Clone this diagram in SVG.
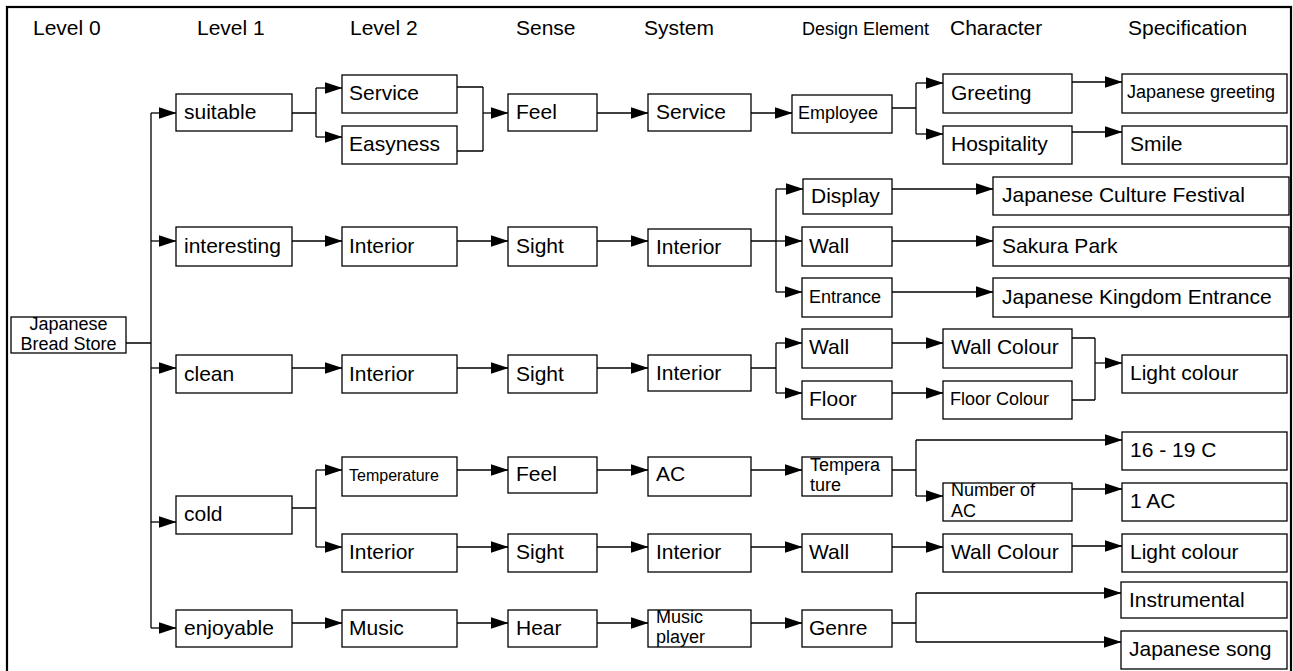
<svg xmlns="http://www.w3.org/2000/svg" width="1293" height="671" viewBox="0 0 1293 671">
<style>
text{font-family:"Liberation Sans",Arial,sans-serif;fill:#000}
.h{font-size:21px}
.b{font-size:21px}
.s{font-size:18px}
.t{font-size:16px}
rect.n{fill:#fff;stroke:#000;stroke-width:1.3}
.c path{fill:none;stroke:#000;stroke-width:1.3}
.c path.a{marker-end:url(#ah)}
</style>
<defs>
<marker id="ah" markerUnits="userSpaceOnUse" viewBox="0 0 18 12" markerWidth="18" markerHeight="12" refX="17.5" refY="6" orient="auto">
<path d="M0,0 L18,6 L0,12 z" fill="#000"/>
</marker>
</defs>
<rect x="7" y="7" width="1284" height="700" fill="#fff" stroke="#000" stroke-width="2.2"/>
<g id="headers">
<text class="h" x="33" y="35">Level 0</text>
<text class="h" x="197" y="35">Level 1</text>
<text class="h" x="350" y="35">Level 2</text>
<text class="h" x="516" y="35">Sense</text>
<text class="h" x="644" y="35">System</text>
<text class="s" x="802" y="35">Design Element</text>
<text class="h" x="950" y="35">Character</text>
<text class="h" x="1128" y="35">Specification</text>
</g>
<g class="c" id="connectors">
<path d="M126,343 H151 M151,113 V628"/>
<path class="a" d="M151,113 H176"/>
<path class="a" d="M151,241 H176"/>
<path class="a" d="M151,368 H176"/>
<path class="a" d="M151,522 H176"/>
<path class="a" d="M151,628 H176"/>
<path d="M292,113 H316 M316,88 V137"/>
<path class="a" d="M316,88 H342"/>
<path class="a" d="M316,137 H342"/>
<path d="M457,87 H483 M457,151 H483 M483,87 V151"/>
<path class="a" d="M483,113 H508"/>
<path class="a" d="M597,113 H648"/>
<path class="a" d="M751,113 H792"/>
<path d="M892,108 H916 M916,83 V134"/>
<path class="a" d="M916,83 H943"/>
<path class="a" d="M916,134 H943"/>
<path class="a" d="M1072,82 H1122"/>
<path class="a" d="M1072,132 H1122"/>
<path class="a" d="M292,241 H342"/>
<path class="a" d="M457,241 H508"/>
<path class="a" d="M597,241 H648"/>
<path d="M751,241 H776 M776,189 V292"/>
<path class="a" d="M776,189 H803"/>
<path class="a" d="M776,241 H802"/>
<path class="a" d="M776,292 H802"/>
<path class="a" d="M892,189 H993"/>
<path class="a" d="M892,241 H993"/>
<path class="a" d="M892,292 H993"/>
<path class="a" d="M292,368 H342"/>
<path class="a" d="M457,368 H508"/>
<path class="a" d="M597,368 H648"/>
<path d="M751,368 H776 M776,343 V393"/>
<path class="a" d="M776,343 H802"/>
<path class="a" d="M776,393 H802"/>
<path class="a" d="M892,343 H943"/>
<path class="a" d="M892,393 H943"/>
<path d="M1072,338 H1095 M1072,400 H1095 M1095,338 V400"/>
<path class="a" d="M1095,363 H1122"/>
<path d="M292,508 H316 M316,470 V547"/>
<path class="a" d="M316,470 H342"/>
<path class="a" d="M316,547 H342"/>
<path class="a" d="M457,470 H508"/>
<path class="a" d="M597,470 H648"/>
<path class="a" d="M751,470 H802"/>
<path d="M892,470 H916 M916,440 V496"/>
<path class="a" d="M916,440 H1122"/>
<path class="a" d="M916,496 H943"/>
<path class="a" d="M1072,489 H1122"/>
<path class="a" d="M457,547 H508"/>
<path class="a" d="M597,547 H648"/>
<path class="a" d="M751,547 H802"/>
<path class="a" d="M892,547 H943"/>
<path class="a" d="M1072,546 H1122"/>
<path class="a" d="M292,623 H342"/>
<path class="a" d="M457,623 H508"/>
<path class="a" d="M597,623 H648"/>
<path class="a" d="M751,623 H802"/>
<path d="M892,623 H916 M916,593 V642"/>
<path class="a" d="M916,593 H1121"/>
<path class="a" d="M916,642 H1121"/>
</g>
<g id="n-store"><rect class="n" x="11" y="317" width="115" height="36"/><text class="s" x="68.5" y="330" text-anchor="middle">Japanese</text><text class="s" x="68.5" y="350" text-anchor="middle">Bread Store</text></g>
<g id="n-suitable"><rect class="n" x="176" y="94" width="116" height="37"/><text class="b" x="184" y="119">suitable</text></g>
<g id="n-interesting"><rect class="n" x="176" y="227" width="116" height="39"/><text class="b" x="184" y="253">interesting</text></g>
<g id="n-clean"><rect class="n" x="176" y="355" width="116" height="38"/><text class="b" x="184" y="381">clean</text></g>
<g id="n-cold"><rect class="n" x="176" y="496" width="116" height="38"/><text class="b" x="184" y="521">cold</text></g>
<g id="n-enjoyable"><rect class="n" x="176" y="610" width="116" height="37"/><text class="b" x="184" y="635">enjoyable</text></g>
<g id="n-l2-service"><rect class="n" x="342" y="75" width="115" height="38"/><text class="b" x="349" y="100">Service</text></g>
<g id="n-l2-easyness"><rect class="n" x="342" y="126" width="115" height="38"/><text class="b" x="349" y="151">Easyness</text></g>
<g id="n-l2-interior1"><rect class="n" x="342" y="227" width="115" height="39"/><text class="b" x="349" y="253">Interior</text></g>
<g id="n-l2-interior2"><rect class="n" x="342" y="355" width="115" height="38"/><text class="b" x="349" y="381">Interior</text></g>
<g id="n-l2-temperature"><rect class="n" x="342" y="457" width="115" height="39"/><text class="t" x="349" y="481">Temperature</text></g>
<g id="n-l2-interior3"><rect class="n" x="342" y="534" width="115" height="38"/><text class="b" x="349" y="559">Interior</text></g>
<g id="n-l2-music"><rect class="n" x="342" y="610" width="115" height="37"/><text class="b" x="349" y="635">Music</text></g>
<g id="n-se-feel1"><rect class="n" x="508" y="94" width="89" height="37"/><text class="b" x="516" y="119">Feel</text></g>
<g id="n-se-sight1"><rect class="n" x="508" y="227" width="89" height="39"/><text class="b" x="516" y="253">Sight</text></g>
<g id="n-se-sight2"><rect class="n" x="508" y="355" width="89" height="38"/><text class="b" x="516" y="381">Sight</text></g>
<g id="n-se-feel2"><rect class="n" x="508" y="457" width="89" height="36"/><text class="b" x="516" y="481">Feel</text></g>
<g id="n-se-sight3"><rect class="n" x="508" y="534" width="89" height="38"/><text class="b" x="516" y="559">Sight</text></g>
<g id="n-se-hear"><rect class="n" x="508" y="610" width="89" height="37"/><text class="b" x="516" y="635">Hear</text></g>
<g id="n-sy-service"><rect class="n" x="648" y="94" width="103" height="37"/><text class="b" x="656" y="119">Service</text></g>
<g id="n-sy-interior1"><rect class="n" x="648" y="229" width="103" height="37"/><text class="b" x="656" y="254">Interior</text></g>
<g id="n-sy-interior2"><rect class="n" x="648" y="355" width="103" height="36"/><text class="b" x="656" y="380">Interior</text></g>
<g id="n-sy-ac"><rect class="n" x="648" y="457" width="103" height="39"/><text class="b" x="656" y="481">AC</text></g>
<g id="n-sy-interior3"><rect class="n" x="648" y="534" width="103" height="38"/><text class="b" x="656" y="559">Interior</text></g>
<g id="n-sy-musicplayer"><rect class="n" x="648" y="610" width="103" height="37"/><text class="s" x="656" y="623">Music</text><text class="s" x="656" y="643">player</text></g>
<g id="n-de-employee"><rect class="n" x="792" y="95" width="100" height="38"/><text class="s" x="798" y="119">Employee</text></g>
<g id="n-de-display"><rect class="n" x="803" y="179" width="89" height="35"/><text class="b" x="811" y="203">Display</text></g>
<g id="n-de-wall1"><rect class="n" x="802" y="227" width="90" height="39"/><text class="b" x="809" y="253">Wall</text></g>
<g id="n-de-entrance"><rect class="n" x="802" y="278" width="90" height="39"/><text class="s" x="809" y="303">Entrance</text></g>
<g id="n-de-wall2"><rect class="n" x="802" y="329" width="90" height="39"/><text class="b" x="809" y="354">Wall</text></g>
<g id="n-de-floor"><rect class="n" x="802" y="381" width="90" height="38"/><text class="b" x="809" y="406">Floor</text></g>
<g id="n-de-temperature"><rect class="n" x="802" y="457" width="90" height="39"/><text class="s" x="810" y="471">Tempera</text><text class="s" x="810" y="491">ture</text></g>
<g id="n-de-wall3"><rect class="n" x="802" y="534" width="90" height="38"/><text class="b" x="809" y="559">Wall</text></g>
<g id="n-de-genre"><rect class="n" x="802" y="610" width="90" height="37"/><text class="b" x="809" y="635">Genre</text></g>
<g id="n-ch-greeting"><rect class="n" x="943" y="74" width="129" height="39"/><text class="b" x="951" y="100">Greeting</text></g>
<g id="n-ch-hospitality"><rect class="n" x="943" y="126" width="129" height="38"/><text class="b" x="951" y="151">Hospitality</text></g>
<g id="n-ch-wallcolour1"><rect class="n" x="943" y="329" width="129" height="39"/><text class="b" x="951" y="354">Wall Colour</text></g>
<g id="n-ch-floorcolour"><rect class="n" x="943" y="381" width="129" height="38"/><text class="s" x="950" y="405">Floor Colour</text></g>
<g id="n-ch-numberac"><rect class="n" x="943" y="483" width="129" height="38"/><text class="s" x="951" y="496">Number of</text><text class="s" x="951" y="517">AC</text></g>
<g id="n-ch-wallcolour2"><rect class="n" x="943" y="534" width="129" height="38"/><text class="b" x="951" y="559">Wall Colour</text></g>
<g id="n-sp-jgreeting"><rect class="n" x="1122" y="74" width="165" height="39"/><text class="s" x="1127" y="98">Japanese greeting</text></g>
<g id="n-sp-smile"><rect class="n" x="1122" y="126" width="165" height="38"/><text class="b" x="1130" y="151">Smile</text></g>
<g id="n-sp-jcf"><rect class="n" x="993" y="177" width="296" height="38"/><text class="b" x="1002" y="202">Japanese Culture Festival</text></g>
<g id="n-sp-sakura"><rect class="n" x="993" y="227" width="296" height="39"/><text class="b" x="1002" y="253">Sakura Park</text></g>
<g id="n-sp-jke"><rect class="n" x="993" y="278" width="296" height="39"/><text class="b" x="1002" y="304">Japanese Kingdom Entrance</text></g>
<g id="n-sp-light1"><rect class="n" x="1122" y="355" width="165" height="38"/><text class="b" x="1130" y="380">Light colour</text></g>
<g id="n-sp-temp"><rect class="n" x="1122" y="432" width="165" height="38"/><text class="b" x="1130" y="457">16 - 19 C</text></g>
<g id="n-sp-1ac"><rect class="n" x="1122" y="483" width="165" height="38"/><text class="b" x="1130" y="508">1 AC</text></g>
<g id="n-sp-light2"><rect class="n" x="1122" y="534" width="165" height="38"/><text class="b" x="1130" y="559">Light colour</text></g>
<g id="n-sp-instrumental"><rect class="n" x="1121" y="582" width="166" height="36"/><text class="b" x="1129" y="607">Instrumental</text></g>
<g id="n-sp-jsong"><rect class="n" x="1121" y="631" width="166" height="38"/><text class="b" x="1129" y="656">Japanese song</text></g>
</svg>
